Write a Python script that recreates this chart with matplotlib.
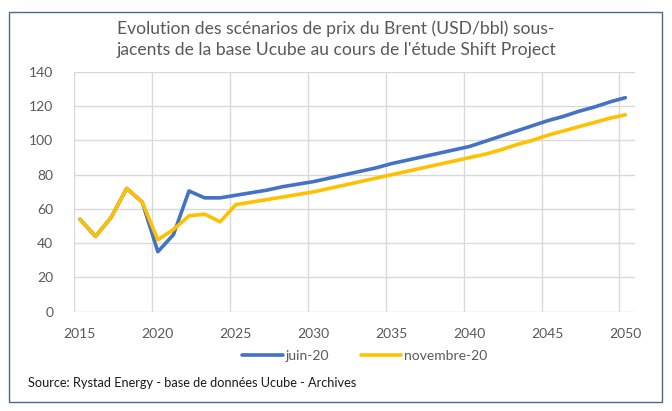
import matplotlib
matplotlib.use("Agg")
import matplotlib.pyplot as plt
from matplotlib.patches import Rectangle
import numpy as np

years = list(range(2015, 2051))
juin_20 = [54, 44, 55, 72, 64, 35, 45, 70.5, 66.5, 66.5,
           68, 69.5, 71, 73, 74.5, 76, 78, 80, 82, 84,
           86.5, 88.5, 90.5, 92.5, 94.5, 96.5, 99.5, 102.5, 105.5, 108.5,
           111.5, 114, 117, 119.5, 122.5, 125]
novembre_20 = [54, 44, 55, 72, 64, 42, 48, 56, 57, 52.5,
               62.5, 64, 65.5, 67, 68.5, 70, 72, 74, 76, 78,
               80, 82, 84, 86, 88, 90, 92, 94.5, 97.5, 100,
               103, 105.5, 108, 110.5, 113, 115]
series_labels = ["juin-20", "novembre-20"]
title = "Evolution des scénarios de prix du Brent (USD/bbl) sous-\njacents de la base Ucube au cours de l'étude Shift Project"
source = "Source: Rystad Energy - base de données Ucube - Archives"
xticks = list(range(2015, 2051, 5))
yticks = list(range(0, 141, 20))

plt.rcParams['font.family'] = ['Lato', 'DejaVu Sans']
grey = "#595959"
fig = plt.figure(figsize=(6.72, 4.11), dpi=100)
fig.patch.set_facecolor("white")
fig.add_artist(Rectangle((9/672, 1 - 402/411), 653/672, 390/411, transform=fig.transFigure,
                         fill=False, edgecolor="#4A6B8A", linewidth=1.0))

ax = fig.add_axes([74/672, 1 - 311.7/411, 561/672, 239.7/411])
ax.plot(years, juin_20, color="#4472C4", linewidth=2.6, label=series_labels[0], solid_capstyle="round")
ax.plot(years, novembre_20, color="#FFC000", linewidth=2.6, label=series_labels[1], solid_capstyle="round")

ax.set_ylim(0, 140)
ax.set_xlim(2014.62, 2050.62)
ax.set_yticks(yticks)
ax.set_xticks(xticks)
ax.set_xticks([2014.62 + 5 * k for k in range(8)], minor=True)
ax.tick_params(axis="both", which="both", length=0, colors=grey, labelsize=10)
ax.tick_params(axis="x", pad=12)
ax.tick_params(axis="y", pad=15)
ax.grid(True, axis="y", which="major", color="#D9D9D9", linewidth=1)
ax.grid(True, axis="x", which="minor", color="#D9D9D9", linewidth=1)
ax.grid(False, axis="x", which="major")
for s in ax.spines.values():
    s.set_visible(False)
ax.set_axisbelow(True)

fig.text(0.50, 1 - 39/411, title, ha="center", va="center", fontsize=12.6, color=grey,
         linespacing=1.35)
fig.legend(loc="center", bbox_to_anchor=(0.543, 1 - 356/411), ncol=2, frameon=False,
           fontsize=10, handlelength=2.9, columnspacing=2.3, handletextpad=0.2,
           labelcolor=grey)
fig.text(28/672, 1 - 383/411, source, ha="left", va="center", fontsize=9.2, color="#1a1a1a")

fig.savefig("out.png", dpi=100, facecolor="white")
